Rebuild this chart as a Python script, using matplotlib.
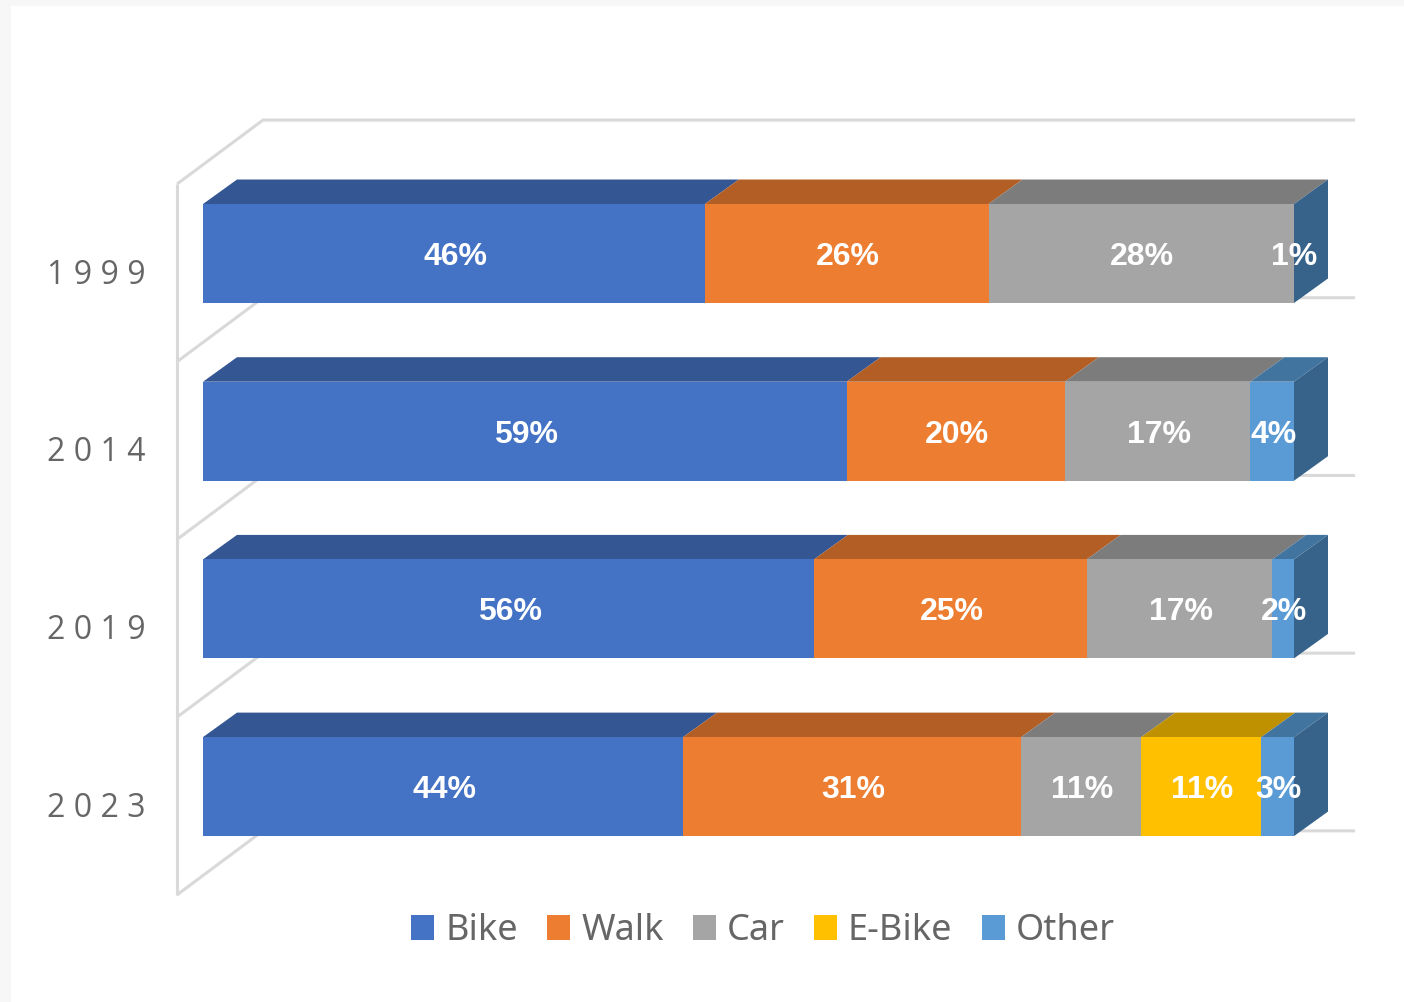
import matplotlib
matplotlib.use('Agg')
import matplotlib.pyplot as plt
from matplotlib.patches import Patch, Polygon, Rectangle

# Valores
anos = ['1999', '2014', '2019', '2023']
series = ['Bike', 'Walk', 'Car', 'E-Bike', 'Other']
bike = [46, 59, 56, 44]
walk = [26, 20, 25, 31]
car = [28, 17, 17, 11]
ebike = [0, 0, 0, 11]
other = [0, 4, 2, 3]
rotulos_other = ['1%', '4%', '2%', '3%']

cores = ['#4472C4', '#ED7D31', '#A5A5A5', '#FFC000', '#5B9BD5']
cores_topo = ['#345693', '#B25E25', '#7C7C7C', '#BF9000', '#4274A0']
cor_lado = '#37638A'
cor_grade = '#D9D9D9'
cor_texto = '#666666'

L, A = 1404, 1002
fig = plt.figure(figsize=(L / 100, A / 100), dpi=100, facecolor='#F7F7F7')
fig.patches.append(Rectangle((11 / L, 0), 1 - 11 / L, 1 - 6 / A, transform=fig.transFigure,
                             facecolor='white', edgecolor='none', zorder=-1))

# O eixo x vai de 0 a 100 entre os pixels 203 e 1294
ax = fig.add_axes([203 / L, 1 - 875.45 / A, 1091 / L, 710.8 / A])
ax.set_xlim(0, 100)
ax.set_ylim(3.5, -0.5)
ax.patch.set_alpha(0)
for s in ax.spines.values():
    s.set_visible(False)

altura = 0.557
prof_x = 34 / 10.91
prof_y = 24.5 / 177.7
y = list(range(len(anos)))

# Paredes do grafico
parede_x = -2.38
fundo_x = 5.5
fim_x = 105.6
fundo_y = 0.36
limites = [-0.391 + k for k in range(len(anos) + 1)]
ax.plot([parede_x, parede_x], [limites[0], limites[-1]], color=cor_grade, lw=2.2,
        clip_on=False, zorder=1, solid_capstyle='butt')
for lim in limites:
    ax.plot([parede_x, fundo_x, fim_x], [lim, lim - fundo_y, lim - fundo_y], color=cor_grade,
            lw=2.2, clip_on=False, zorder=1, solid_capstyle='butt')

# Barras empilhadas
esquerda = [0, 0, 0, 0]
for j, valores in enumerate([bike, walk, car, ebike, other]):
    ax.barh(y, valores, height=altura, left=esquerda, color=cores[j], zorder=3, clip_on=False)
    for i in y:
        if valores[i] > 0:
            e = esquerda[i]
            d = e + valores[i]
            topo = i - altura / 2
            ax.add_patch(Polygon([(e, topo), (d, topo), (d + prof_x, topo - prof_y),
                                  (e + prof_x, topo - prof_y)], facecolor=cores_topo[j],
                                 edgecolor='none', zorder=2, clip_on=False))
            ax.text(e + valores[i] / 2 + 0.1, i + 0.02, str(valores[i]) + '%', color='white',
                    fontsize=23, fontweight='bold', family='Liberation Sans', ha='center',
                    va='center', zorder=5)
    esquerda = [esquerda[i] + valores[i] for i in y]

# Face lateral e rotulo do 1% (sem largura visivel)
for i in y:
    topo = i - altura / 2
    base = i + altura / 2
    ax.add_patch(Polygon([(100, topo), (100, base), (100 + prof_x, base - prof_y),
                          (100 + prof_x, topo - prof_y)], facecolor=cor_lado,
                         edgecolor='none', zorder=2, clip_on=False))
    if other[i] == 0:
        ax.text(100, i + 0.02, rotulos_other[i], color='white', fontsize=23,
                fontweight='bold', family='Liberation Sans', ha='center', va='center', zorder=5)

ax.set_xticks([])
ax.set_yticks([i + 0.10 for i in y])
ax.set_yticklabels([' '.join(a) for a in anos], fontsize=23, family='Open Sans', color=cor_texto)
ax.tick_params(axis='y', length=0, pad=41.5)

handles = [Patch(facecolor=cores[j], edgecolor='none', label=series[j]) for j in range(len(series))]
fig.legend(handles=handles, loc='center', bbox_to_anchor=(763 / L, 1 - 931 / A), ncol=5,
           frameon=False, prop={'family': 'Noto Sans', 'size': 26}, labelcolor=cor_texto,
           handlelength=0.64, handleheight=0.67, handletextpad=0.3, columnspacing=0.81,
           borderpad=0, borderaxespad=0)

fig.savefig('out.png', dpi=100, facecolor=fig.get_facecolor())
